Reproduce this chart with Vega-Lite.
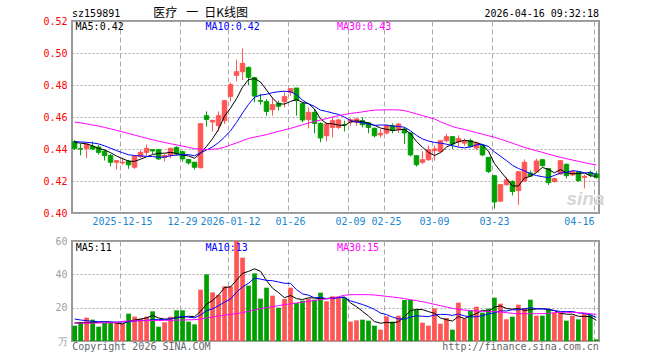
{
  "$schema": "https://vega.github.io/schema/vega-lite/v6.json",
  "background": "white",
  "padding": {"left": 41, "top": 6, "right": 5, "bottom": 2},
  "spacing": 8,
  "config": {
    "view": {"stroke": "#999", "strokeWidth": 2},
    "axis": {"domain": false, "ticks": false, "tickSize": 0, "labelFont": "DejaVu Sans Mono", "labelFontSize": 10, "gridColor": "#aaa", "gridWidth": 1, "title": null, "labelOverlap": false},
    "text": {"font": "DejaVu Sans Mono", "fontSize": 10}
  },
  "datasets": {
    "k": [
      {"d":"2025-12-03","o":0.4446,"h":0.4456,"l":0.4394,"c":0.4404,"v":9.2,"m5":0.4441,"m10":0.4446,"m30":0.4568,"v5":10.8,"v10":13.2,"v30":10.6},
      {"d":"2025-12-04","o":0.4402,"h":0.4435,"l":0.4360,"c":0.4400,"v":11.4,"m5":0.4437,"m10":0.4444,"m30":0.4563,"v5":10.9,"v10":12.6,"v30":10.7},
      {"d":"2025-12-05","o":0.4404,"h":0.4435,"l":0.4344,"c":0.4431,"v":14,"m5":0.4432,"m10":0.4442,"m30":0.4557,"v5":11.0,"v10":12.2,"v30":10.7},
      {"d":"2025-12-08","o":0.4417,"h":0.4446,"l":0.4394,"c":0.4400,"v":12.8,"m5":0.4420,"m10":0.4438,"m30":0.4550,"v5":11.1,"v10":11.8,"v30":10.8},
      {"d":"2025-12-09","o":0.4412,"h":0.4427,"l":0.4365,"c":0.4379,"v":8.6,"m5":0.4403,"m10":0.4432,"m30":0.4543,"v5":11.2,"v10":11.6,"v30":10.8},
      {"d":"2025-12-10","o":0.4386,"h":0.4394,"l":0.4328,"c":0.4359,"v":10.8,"m5":0.4394,"m10":0.4420,"m30":0.4535,"v5":11.52,"v10":11.5,"v30":10.9},
      {"d":"2025-12-11","o":0.4359,"h":0.4369,"l":0.4292,"c":0.4317,"v":10.8,"m5":0.4377,"m10":0.4405,"m30":0.4526,"v5":11.4,"v10":11.4,"v30":10.9},
      {"d":"2025-12-12","o":0.4317,"h":0.4330,"l":0.4272,"c":0.4327,"v":10.8,"m5":0.4356,"m10":0.4390,"m30":0.4517,"v5":10.76,"v10":11.4,"v30":11.0},
      {"d":"2025-12-15","o":0.4313,"h":0.4344,"l":0.4303,"c":0.4317,"v":10.4,"m5":0.4340,"m10":0.4377,"m30":0.4507,"v5":10.28,"v10":11.4,"v30":11.8},
      {"d":"2025-12-16","o":0.4323,"h":0.4332,"l":0.4276,"c":0.4301,"v":16.4,"m5":0.4324,"m10":0.4364,"m30":0.4497,"v5":11.84,"v10":11.52,"v30":12.0},
      {"d":"2025-12-17","o":0.4286,"h":0.4357,"l":0.4276,"c":0.4354,"v":14.6,"m5":0.4323,"m10":0.4359,"m30":0.4487,"v5":12.6,"v10":12.06,"v30":12.1},
      {"d":"2025-12-18","o":0.4352,"h":0.4394,"l":0.4344,"c":0.4379,"v":13.4,"m5":0.4336,"m10":0.4357,"m30":0.4477,"v5":13.12,"v10":12.26,"v30":12.2},
      {"d":"2025-12-19","o":0.4379,"h":0.4427,"l":0.4359,"c":0.4404,"v":14.6,"m5":0.4351,"m10":0.4354,"m30":0.4467,"v5":13.88,"v10":12.32,"v30":12.2},
      {"d":"2025-12-22","o":0.4396,"h":0.4398,"l":0.4369,"c":0.4388,"v":17.8,"m5":0.4365,"m10":0.4353,"m30":0.4458,"v5":15.36,"v10":12.82,"v30":12.3},
      {"d":"2025-12-23","o":0.4396,"h":0.4400,"l":0.4332,"c":0.4338,"v":8.6,"m5":0.4373,"m10":0.4349,"m30":0.4449,"v5":13.8,"v10":12.82,"v30":12.3},
      {"d":"2025-12-24","o":0.4348,"h":0.4369,"l":0.4323,"c":0.4359,"v":11.2,"m5":0.4374,"m10":0.4349,"m30":0.4441,"v5":13.12,"v10":12.86,"v30":12.4},
      {"d":"2025-12-25","o":0.4359,"h":0.4408,"l":0.4344,"c":0.4404,"v":14.6,"m5":0.4379,"m10":0.4358,"m30":0.4433,"v5":13.36,"v10":13.24,"v30":12.4},
      {"d":"2025-12-26","o":0.4410,"h":0.4417,"l":0.4359,"c":0.4369,"v":18.4,"m5":0.4372,"m10":0.4362,"m30":0.4426,"v5":14.12,"v10":14.0,"v30":12.5},
      {"d":"2025-12-29","o":0.4383,"h":0.4390,"l":0.4321,"c":0.4338,"v":18.4,"m5":0.4362,"m10":0.4364,"m30":0.4418,"v5":14.24,"v10":14.8,"v30":12.6},
      {"d":"2025-12-30","o":0.4334,"h":0.4338,"l":0.4303,"c":0.4313,"v":11.6,"m5":0.4357,"m10":0.4365,"m30":0.4410,"v5":14.84,"v10":14.32,"v30":12.7},
      {"d":"2025-12-31","o":0.4317,"h":0.4321,"l":0.4272,"c":0.4286,"v":10,"m5":0.4342,"m10":0.4358,"m30":0.4402,"v5":14.6,"v10":13.86,"v30":12.8},
      {"d":"2026-01-05","o":0.4283,"h":0.4560,"l":0.4280,"c":0.4558,"v":30.8,"m5":0.4373,"m10":0.4376,"m30":0.4398,"v5":17.84,"v10":15.6,"v30":13.2},
      {"d":"2026-01-06","o":0.4608,"h":0.4635,"l":0.4540,"c":0.4585,"v":40,"m5":0.4416,"m10":0.4394,"m30":0.4397,"v5":22.16,"v10":18.14,"v30":13.8},
      {"d":"2026-01-07","o":0.4569,"h":0.4583,"l":0.4510,"c":0.4579,"v":29.2,"m5":0.4464,"m10":0.4413,"m30":0.4398,"v5":24.32,"v10":19.28,"v30":14.4},
      {"d":"2026-01-08","o":0.4546,"h":0.4635,"l":0.4510,"c":0.4608,"v":27.6,"m5":0.4523,"m10":0.4440,"m30":0.4402,"v5":27.52,"v10":21.18,"v30":15.0},
      {"d":"2026-01-09","o":0.4577,"h":0.4708,"l":0.4556,"c":0.4702,"v":32.8,"m5":0.4606,"m10":0.4474,"m30":0.4412,"v5":32.08,"v10":23.34,"v30":15.5},
      {"d":"2026-01-12","o":0.4729,"h":0.4815,"l":0.4698,"c":0.4802,"v":32.8,"m5":0.4655,"m10":0.4514,"m30":0.4425,"v5":32.48,"v10":25.16,"v30":16.0},
      {"d":"2026-01-13","o":0.4860,"h":0.4958,"l":0.4823,"c":0.4883,"v":60,"m5":0.4715,"m10":0.4566,"m30":0.4438,"v5":36.48,"v10":29.32,"v30":16.4},
      {"d":"2026-01-14","o":0.4883,"h":0.5029,"l":0.4831,"c":0.4935,"v":50,"m5":0.4786,"m10":0.4625,"m30":0.4452,"v5":40.64,"v10":32.48,"v30":17.0},
      {"d":"2026-01-15","o":0.4910,"h":0.4915,"l":0.4800,"c":0.4848,"v":33.2,"m5":0.4834,"m10":0.4679,"m30":0.4466,"v5":41.76,"v10":34.64,"v30":17.8},
      {"d":"2026-01-16","o":0.4846,"h":0.4852,"l":0.4692,"c":0.4731,"v":40.6,"m5":0.4840,"m10":0.4723,"m30":0.4474,"v5":43.32,"v10":37.7,"v30":18.6},
      {"d":"2026-01-19","o":0.4702,"h":0.4744,"l":0.4677,"c":0.4698,"v":25.4,"m5":0.4819,"m10":0.4737,"m30":0.4482,"v5":41.84,"v10":37.16,"v30":19.4},
      {"d":"2026-01-20","o":0.4696,"h":0.4712,"l":0.4608,"c":0.4635,"v":32,"m5":0.4769,"m10":0.4742,"m30":0.4490,"v5":36.24,"v10":36.36,"v30":20.0},
      {"d":"2026-01-21","o":0.4646,"h":0.4723,"l":0.4608,"c":0.4677,"v":27.2,"m5":0.4718,"m10":0.4752,"m30":0.4500,"v5":31.68,"v10":36.16,"v30":20.6},
      {"d":"2026-01-22","o":0.4685,"h":0.4702,"l":0.4640,"c":0.4667,"v":20,"m5":0.4682,"m10":0.4758,"m30":0.4510,"v5":29.04,"v10":35.4,"v30":21.2},
      {"d":"2026-01-23","o":0.4696,"h":0.4754,"l":0.4660,"c":0.4727,"v":25.2,"m5":0.4681,"m10":0.4761,"m30":0.4520,"v5":25.96,"v10":34.64,"v30":21.8},
      {"d":"2026-01-26","o":0.4754,"h":0.4777,"l":0.4733,"c":0.4777,"v":32,"m5":0.4697,"m10":0.4758,"m30":0.4529,"v5":27.28,"v10":34.56,"v30":22.3},
      {"d":"2026-01-27","o":0.4781,"h":0.4781,"l":0.4608,"c":0.4702,"v":22.8,"m5":0.4710,"m10":0.4740,"m30":0.4540,"v5":25.44,"v10":30.84,"v30":22.8},
      {"d":"2026-01-28","o":0.4685,"h":0.4692,"l":0.4567,"c":0.4581,"v":24.2,"m5":0.4691,"m10":0.4705,"m30":0.4551,"v5":24.84,"v10":28.26,"v30":23.3},
      {"d":"2026-01-29","o":0.4583,"h":0.4660,"l":0.4529,"c":0.4629,"v":25.4,"m5":0.4683,"m10":0.4683,"m30":0.4562,"v5":25.92,"v10":27.48,"v30":23.8},
      {"d":"2026-01-30","o":0.4629,"h":0.4650,"l":0.4498,"c":0.4560,"v":24.8,"m5":0.4650,"m10":0.4666,"m30":0.4572,"v5":25.84,"v10":25.9,"v30":24.3},
      {"d":"2026-02-02","o":0.4560,"h":0.4567,"l":0.4442,"c":0.4469,"v":29,"m5":0.4588,"m10":0.4643,"m30":0.4581,"v5":25.24,"v10":26.26,"v30":24.8},
      {"d":"2026-02-03","o":0.4483,"h":0.4567,"l":0.4448,"c":0.4556,"v":23.8,"m5":0.4559,"m10":0.4635,"m30":0.4590,"v5":25.44,"v10":25.44,"v30":25.3},
      {"d":"2026-02-04","o":0.4535,"h":0.4598,"l":0.4473,"c":0.4577,"v":26.8,"m5":0.4558,"m10":0.4625,"m30":0.4600,"v5":25.96,"v10":25.4,"v30":25.8},
      {"d":"2026-02-05","o":0.4535,"h":0.4588,"l":0.4525,"c":0.4581,"v":26.2,"m5":0.4549,"m10":0.4616,"m30":0.4608,"v5":26.12,"v10":26.02,"v30":26.6},
      {"d":"2026-02-06","o":0.4552,"h":0.4577,"l":0.4510,"c":0.4550,"v":26,"m5":0.4547,"m10":0.4599,"m30":0.4616,"v5":26.36,"v10":26.1,"v30":27.4},
      {"d":"2026-02-09","o":0.4567,"h":0.4592,"l":0.4546,"c":0.4583,"v":11.6,"m5":0.4569,"m10":0.4579,"m30":0.4622,"v5":22.88,"v10":24.06,"v30":27.8},
      {"d":"2026-02-10","o":0.4567,"h":0.4592,"l":0.4546,"c":0.4588,"v":12.4,"m5":0.4576,"m10":0.4568,"m30":0.4627,"v5":20.6,"v10":23.02,"v30":27.8},
      {"d":"2026-02-11","o":0.4577,"h":0.4598,"l":0.4535,"c":0.4552,"v":12.8,"m5":0.4571,"m10":0.4565,"m30":0.4632,"v5":17.8,"v10":21.88,"v30":27.8},
      {"d":"2026-02-12","o":0.4563,"h":0.4567,"l":0.4498,"c":0.4535,"v":12.2,"m5":0.4562,"m10":0.4556,"m30":0.4638,"v5":15.0,"v10":20.56,"v30":27.8},
      {"d":"2026-02-13","o":0.4529,"h":0.4535,"l":0.4473,"c":0.4483,"v":9.2,"m5":0.4548,"m10":0.4548,"m30":0.4643,"v5":11.64,"v10":19.0,"v30":27.6},
      {"d":"2026-02-24","o":0.4488,"h":0.4525,"l":0.4473,"c":0.4498,"v":6.8,"m5":0.4531,"m10":0.4550,"m30":0.4644,"v5":10.68,"v10":16.78,"v30":27.2},
      {"d":"2026-02-25","o":0.4500,"h":0.4546,"l":0.4490,"c":0.4546,"v":14.8,"m5":0.4523,"m10":0.4550,"m30":0.4645,"v5":11.16,"v10":15.88,"v30":26.8},
      {"d":"2026-02-26","o":0.4546,"h":0.4560,"l":0.4498,"c":0.4515,"v":11.6,"m5":0.4515,"m10":0.4543,"m30":0.4645,"v5":10.92,"v10":14.36,"v30":26.4},
      {"d":"2026-02-27","o":0.4525,"h":0.4563,"l":0.4500,"c":0.4556,"v":15.2,"m5":0.4520,"m10":0.4541,"m30":0.4644,"v5":11.52,"v10":13.26,"v30":26.0},
      {"d":"2026-03-02","o":0.4525,"h":0.4535,"l":0.4431,"c":0.4500,"v":24.6,"m5":0.4523,"m10":0.4536,"m30":0.4640,"v5":14.6,"v10":13.12,"v30":25.4},
      {"d":"2026-03-03","o":0.4500,"h":0.4504,"l":0.4354,"c":0.4363,"v":24.6,"m5":0.4496,"m10":0.4514,"m30":0.4630,"v5":18.16,"v10":14.42,"v30":24.8},
      {"d":"2026-03-04","o":0.4358,"h":0.4358,"l":0.4290,"c":0.4302,"v":18.8,"m5":0.4447,"m10":0.4485,"m30":0.4619,"v5":18.96,"v10":15.06,"v30":24.2},
      {"d":"2026-03-05","o":0.4317,"h":0.4383,"l":0.4306,"c":0.4333,"v":11,"m5":0.4411,"m10":0.4463,"m30":0.4609,"v5":18.84,"v10":14.88,"v30":23.6},
      {"d":"2026-03-06","o":0.4333,"h":0.4421,"l":0.4327,"c":0.4396,"v":9.2,"m5":0.4379,"m10":0.4450,"m30":0.4598,"v5":17.64,"v10":14.58,"v30":22.8},
      {"d":"2026-03-09","o":0.4390,"h":0.4421,"l":0.4327,"c":0.4400,"v":19.6,"m5":0.4359,"m10":0.4441,"m30":0.4588,"v5":16.64,"v10":15.62,"v30":22.0},
      {"d":"2026-03-10","o":0.4383,"h":0.4452,"l":0.4379,"c":0.4452,"v":10.4,"m5":0.4377,"m10":0.4437,"m30":0.4570,"v5":13.8,"v10":15.98,"v30":21.2},
      {"d":"2026-03-11","o":0.4452,"h":0.4494,"l":0.4442,"c":0.4477,"v":13.8,"m5":0.4412,"m10":0.4430,"m30":0.4555,"v5":12.8,"v10":15.88,"v30":20.4},
      {"d":"2026-03-12","o":0.4477,"h":0.4477,"l":0.4400,"c":0.4431,"v":6.8,"m5":0.4431,"m10":0.4421,"m30":0.4540,"v5":11.96,"v10":15.4,"v30":19.6},
      {"d":"2026-03-13","o":0.4445,"h":0.4485,"l":0.4415,"c":0.4465,"v":23,"m5":0.4445,"m10":0.4412,"m30":0.4530,"v5":14.72,"v10":16.18,"v30":19.0},
      {"d":"2026-03-16","o":0.4437,"h":0.4465,"l":0.4420,"c":0.4452,"v":13.4,"m5":0.4455,"m10":0.4407,"m30":0.4522,"v5":13.48,"v10":15.06,"v30":18.6},
      {"d":"2026-03-17","o":0.4452,"h":0.4465,"l":0.4410,"c":0.4417,"v":18.4,"m5":0.4448,"m10":0.4413,"m30":0.4512,"v5":15.08,"v10":14.44,"v30":18.2},
      {"d":"2026-03-18","o":0.4406,"h":0.4448,"l":0.4395,"c":0.4437,"v":20.6,"m5":0.4440,"m10":0.4426,"m30":0.4502,"v5":16.44,"v10":14.62,"v30":18.0},
      {"d":"2026-03-19","o":0.4421,"h":0.4425,"l":0.4355,"c":0.4363,"v":17,"m5":0.4427,"m10":0.4429,"m30":0.4493,"v5":18.48,"v10":15.22,"v30":17.8},
      {"d":"2026-03-20","o":0.4348,"h":0.4350,"l":0.4250,"c":0.4259,"v":19.4,"m5":0.4386,"m10":0.4416,"m30":0.4483,"v5":17.76,"v10":16.24,"v30":17.8},
      {"d":"2026-03-23","o":0.4233,"h":0.4235,"l":0.4027,"c":0.4069,"v":26,"m5":0.4309,"m10":0.4382,"m30":0.4473,"v5":20.28,"v10":16.88,"v30":17.6},
      {"d":"2026-03-24","o":0.4074,"h":0.4180,"l":0.4070,"c":0.4177,"v":22.4,"m5":0.4261,"m10":0.4355,"m30":0.4461,"v5":21.08,"v10":18.08,"v30":17.4},
      {"d":"2026-03-25","o":0.4177,"h":0.4225,"l":0.4170,"c":0.4207,"v":13,"m5":0.4215,"m10":0.4328,"m30":0.4449,"v5":19.56,"v10":18.0,"v30":17.0},
      {"d":"2026-03-26","o":0.4197,"h":0.4205,"l":0.4110,"c":0.4134,"v":14.6,"m5":0.4169,"m10":0.4298,"m30":0.4436,"v5":19.08,"v10":18.78,"v30":16.6},
      {"d":"2026-03-27","o":0.4140,"h":0.4260,"l":0.4051,"c":0.4258,"v":21.8,"m5":0.4169,"m10":0.4278,"m30":0.4423,"v5":19.56,"v10":18.66,"v30":16.4},
      {"d":"2026-03-30","o":0.4200,"h":0.4335,"l":0.4196,"c":0.4317,"v":19.8,"m5":0.4219,"m10":0.4264,"m30":0.4410,"v5":18.32,"v10":19.3,"v30":16.4},
      {"d":"2026-03-31","o":0.4250,"h":0.4265,"l":0.4225,"c":0.4231,"v":24.8,"m5":0.4229,"m10":0.4245,"m30":0.4400,"v5":18.8,"v10":19.94,"v30":16.4},
      {"d":"2026-04-01","o":0.4257,"h":0.4340,"l":0.4252,"c":0.4325,"v":15.2,"m5":0.4253,"m10":0.4234,"m30":0.4389,"v5":19.24,"v10":19.4,"v30":16.4},
      {"d":"2026-04-02","o":0.4333,"h":0.4335,"l":0.4290,"c":0.4296,"v":15.2,"m5":0.4285,"m10":0.4227,"m30":0.4379,"v5":19.36,"v10":19.22,"v30":16.4},
      {"d":"2026-04-03","o":0.4278,"h":0.4280,"l":0.4175,"c":0.4190,"v":19.2,"m5":0.4272,"m10":0.4221,"m30":0.4368,"v5":18.84,"v10":19.2,"v30":16.6},
      {"d":"2026-04-07","o":0.4197,"h":0.4220,"l":0.4190,"c":0.4215,"v":16.8,"m5":0.4251,"m10":0.4235,"m30":0.4358,"v5":18.24,"v10":18.28,"v30":17.0},
      {"d":"2026-04-08","o":0.4244,"h":0.4330,"l":0.4240,"c":0.4327,"v":17,"m5":0.4271,"m10":0.4250,"m30":0.4348,"v5":16.68,"v10":17.74,"v30":17.2},
      {"d":"2026-04-09","o":0.4304,"h":0.4310,"l":0.4215,"c":0.4233,"v":12.2,"m5":0.4252,"m10":0.4253,"m30":0.4340,"v5":16.08,"v10":17.66,"v30":17.2},
      {"d":"2026-04-10","o":0.4238,"h":0.4262,"l":0.4230,"c":0.4258,"v":15.2,"m5":0.4245,"m10":0.4265,"m30":0.4331,"v5":16.08,"v10":17.72,"v30":17.2},
      {"d":"2026-04-13","o":0.4257,"h":0.4262,"l":0.4195,"c":0.4202,"v":13,"m5":0.4247,"m10":0.4260,"m30":0.4323,"v5":14.84,"v10":16.84,"v30":17.0},
      {"d":"2026-04-14","o":0.4223,"h":0.4240,"l":0.4154,"c":0.4229,"v":16.6,"m5":0.4250,"m10":0.4251,"m30":0.4315,"v5":14.8,"v10":16.52,"v30":16.8},
      {"d":"2026-04-15","o":0.4254,"h":0.4265,"l":0.4225,"c":0.4238,"v":16,"m5":0.4232,"m10":0.4252,"m30":0.4307,"v5":14.6,"v10":15.64,"v30":16.4},
      {"d":"2026-04-16","o":0.4244,"h":0.4260,"l":0.4215,"c":0.4222,"v":1,"m5":0.4230,"m10":0.4241,"m30":0.4300,"v5":12.36,"v10":14.22,"v30":16.0}
    ]
  },
  "vconcat": [
    {
      "width": 527,
      "height": 192,
      "data": {"name": "k"},
      "encoding": {
        "x": {
          "field": "d", "type": "ordinal",
          "scale": {"type": "band", "paddingInner": 0.25, "paddingOuter": 0.05},
          "axis": {
            "values": ["2025-12-15","2025-12-29","2026-01-12","2026-01-26","2026-02-09","2026-02-25","2026-03-09","2026-03-23","2026-04-16"],
            "labelExpr": "datum.value == '2025-12-15' || datum.value == '2026-01-12' ? datum.value : slice(datum.value, 5)",
            "labelColor": "#1a86d0", "labelAngle": 0, "labelPadding": 3,
            "labelFlush": 8, "labelFlushOffset": -2, "bandPosition": 0,
            "grid": true, "gridDash": [5, 3]
          }
        }
      },
      "layer": [
        {
          "data": {"values": [{"t": "sina"}]},
          "mark": {"type": "text", "font": "Liberation Sans", "fontSize": 19, "fontStyle": "italic", "fontWeight": "bold", "color": "#d6d6d6", "align": "left", "baseline": "alphabetic", "dy": -8},
          "encoding": {"x": {"datum": "2026-04-09", "type": "ordinal"}, "y": {"datum": 0.40, "type": "quantitative"}, "text": {"field": "t"}}
        },
        {
          "mark": {"type": "rule", "strokeWidth": 1},
          "encoding": {
            "y": {
              "field": "l", "type": "quantitative",
              "scale": {"domain": [0.40, 0.52], "zero": false, "nice": false},
              "axis": {"values": [0.40,0.42,0.44,0.46,0.48,0.50,0.52], "tickCount": 20, "format": ".2f", "labelColor": "#ff0000", "labelPadding": 5, "grid": true, "gridDash": [2, 2]}
            },
            "y2": {"field": "h"},
            "color": {"condition": {"test": "datum.c >= datum.o", "value": "#ff5555"}, "value": "#00a000"}
          }
        },
        {
          "mark": {"type": "bar", "strokeWidth": 1},
          "encoding": {
            "y": {"field": "o", "type": "quantitative"},
            "y2": {"field": "c"},
            "fill": {"condition": {"test": "datum.c >= datum.o", "value": "#ff5555"}, "value": "#00a000"},
            "stroke": {"condition": {"test": "datum.c >= datum.o", "value": "#ff5555"}, "value": "#00a000"}
          }
        },
        {"mark": {"type": "line", "color": "#000000", "strokeWidth": 1}, "encoding": {"y": {"field": "m5", "type": "quantitative"}}},
        {"mark": {"type": "line", "color": "#0000ff", "strokeWidth": 1}, "encoding": {"y": {"field": "m10", "type": "quantitative"}}},
        {"mark": {"type": "line", "color": "#ff00ff", "strokeWidth": 1}, "encoding": {"y": {"field": "m30", "type": "quantitative"}}},
        {
          "data": {"values": [{"t": "MA5:0.42"}]},
          "mark": {"type": "text", "align": "left", "baseline": "middle", "dx": 1, "dy": 6, "color": "#000000"},
          "encoding": {"x": {"datum": "2025-12-03", "type": "ordinal"}, "y": {"datum": 0.52, "type": "quantitative"}, "text": {"field": "t"}}
        },
        {
          "data": {"values": [{"t": "MA10:0.42"}]},
          "mark": {"type": "text", "align": "left", "baseline": "middle", "dx": -1, "dy": 6, "color": "#0000ff"},
          "encoding": {"x": {"datum": "2026-01-06", "type": "ordinal"}, "y": {"datum": 0.52, "type": "quantitative"}, "text": {"field": "t"}}
        },
        {
          "data": {"values": [{"t": "MA30:0.43"}]},
          "mark": {"type": "text", "align": "left", "baseline": "middle", "dx": -1.5, "dy": 6, "color": "#ff00ff"},
          "encoding": {"x": {"datum": "2026-02-05", "type": "ordinal"}, "y": {"datum": 0.52, "type": "quantitative"}, "text": {"field": "t"}}
        },
        {
          "data": {"values": [{"t": "sz159891"}]},
          "mark": {"type": "text", "align": "left", "baseline": "middle", "dx": -2.5, "dy": -7, "color": "#000000"},
          "encoding": {"x": {"datum": "2025-12-03", "type": "ordinal"}, "y": {"datum": 0.52, "type": "quantitative"}, "text": {"field": "t"}}
        },
        {
          "data": {"values": [{"t": "医疗\u2002\u2005一\u2002日K线图"}]},
          "mark": {"type": "text", "font": "Noto Sans CJK SC", "fontSize": 12, "align": "center", "baseline": "middle", "dy": -8, "color": "#000000"},
          "encoding": {"x": {"datum": "2026-01-05", "type": "ordinal"}, "y": {"datum": 0.52, "type": "quantitative"}, "text": {"field": "t"}}
        },
        {
          "data": {"values": [{"t": "2026-04-16 09:32:18"}]},
          "mark": {"type": "text", "align": "right", "baseline": "middle", "dx": 2.5, "dy": -7, "color": "#000000"},
          "encoding": {"x": {"datum": "2026-04-16", "type": "ordinal"}, "y": {"datum": 0.52, "type": "quantitative"}, "text": {"field": "t"}}
        }
      ]
    },
    {
      "width": 527,
      "height": 100,
      "data": {"name": "k"},
      "encoding": {
        "x": {
          "field": "d", "type": "ordinal",
          "scale": {"type": "band", "paddingInner": 0.22, "paddingOuter": 0.05},
          "axis": {
            "values": ["2025-12-15","2025-12-29","2026-01-12","2026-01-26","2026-02-09","2026-02-25","2026-03-09","2026-03-23","2026-04-16"],
            "labels": false, "bandPosition": 0, "grid": true, "gridDash": [5, 3]
          }
        }
      },
      "layer": [
        {
          "mark": {"type": "bar"},
          "encoding": {
            "y": {
              "field": "v", "type": "quantitative",
              "scale": {"domain": [0, 60], "nice": false},
              "axis": {"values": [0, 20, 40, 60], "tickCount": 20, "labelExpr": "datum.value == 0 ? '万' : datum.label", "labelColor": "#a0a0a0", "labelPadding": 5, "grid": true, "gridDash": [2, 2]}
            },
            "color": {"condition": {"test": "datum.c >= datum.o", "value": "#ff5555"}, "value": "#00a000"}
          }
        },
        {"mark": {"type": "line", "color": "#000000", "strokeWidth": 1}, "encoding": {"y": {"field": "v5", "type": "quantitative"}}},
        {"mark": {"type": "line", "color": "#0000ff", "strokeWidth": 1}, "encoding": {"y": {"field": "v10", "type": "quantitative"}}},
        {"mark": {"type": "line", "color": "#ff00ff", "strokeWidth": 1}, "encoding": {"y": {"field": "v30", "type": "quantitative"}}},
        {
          "data": {"values": [{"t": "MA5:11"}]},
          "mark": {"type": "text", "align": "left", "baseline": "middle", "dx": 1, "dy": 6.5, "color": "#000000"},
          "encoding": {"x": {"datum": "2025-12-03", "type": "ordinal"}, "y": {"datum": 60, "type": "quantitative"}, "text": {"field": "t"}}
        },
        {
          "data": {"values": [{"t": "MA10:13"}]},
          "mark": {"type": "text", "align": "left", "baseline": "middle", "dx": -1, "dy": 6.5, "color": "#0000ff"},
          "encoding": {"x": {"datum": "2026-01-06", "type": "ordinal"}, "y": {"datum": 60, "type": "quantitative"}, "text": {"field": "t"}}
        },
        {
          "data": {"values": [{"t": "MA30:15"}]},
          "mark": {"type": "text", "align": "left", "baseline": "middle", "dx": -1.5, "dy": 6.5, "color": "#ff00ff"},
          "encoding": {"x": {"datum": "2026-02-05", "type": "ordinal"}, "y": {"datum": 60, "type": "quantitative"}, "text": {"field": "t"}}
        },
        {
          "data": {"values": [{"t": "Copyright 2026 SINA.COM"}]},
          "mark": {"type": "text", "align": "left", "baseline": "middle", "dx": -2.5, "dy": 6, "color": "#666666"},
          "encoding": {"x": {"datum": "2025-12-03", "type": "ordinal"}, "y": {"datum": 0, "type": "quantitative"}, "text": {"field": "t"}}
        },
        {
          "data": {"values": [{"t": "http://finance.sina.com.cn"}]},
          "mark": {"type": "text", "align": "right", "baseline": "middle", "dx": 2.5, "dy": 6, "color": "#666666"},
          "encoding": {"x": {"datum": "2026-04-16", "type": "ordinal"}, "y": {"datum": 0, "type": "quantitative"}, "text": {"field": "t"}}
        }
      ]
    }
  ]
}
